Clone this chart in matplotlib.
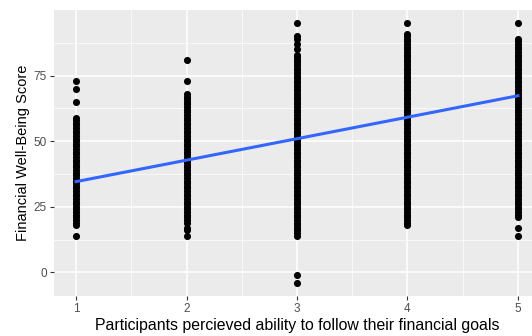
import numpy as np
import matplotlib
matplotlib.use("Agg")
import matplotlib.pyplot as plt

# perceived ability (x) and the distinct well-being scores seen in each column
ability_levels = [1, 2, 3, 4, 5]

scores_1 = [14, 18, 19, 20, 21, 22, 23, 24, 25, 26, 27, 28, 29, 30, 31, 32, 33, 34, 35,
            36, 37, 38, 39, 40, 41, 42, 43, 44, 45, 46, 47, 48, 49, 50, 51, 52, 53, 54,
            55, 56, 57, 58, 59, 65, 70, 73]
scores_2 = [14, 16, 17, 19, 20, 21, 22, 23, 24, 25, 26, 27, 28, 29, 30, 31, 32, 33, 34,
            35, 36, 37, 38, 39, 40, 41, 42, 43, 44, 45, 46, 47, 48, 49, 50, 51, 52, 53,
            54, 55, 56, 57, 58, 59, 60, 61, 62, 63, 64, 65, 66, 67, 68, 73, 81]
scores_3 = [-4, -1, 14, 15, 16, 17, 18, 19, 20, 21, 22, 23, 24, 25, 26, 27, 28, 29, 30,
            31, 32, 33, 34, 35, 36, 37, 38, 39, 40, 41, 42, 43, 44, 45, 46, 47, 48, 49,
            50, 51, 52, 53, 54, 55, 56, 57, 58, 59, 60, 61, 62, 63, 64, 65, 66, 67, 68,
            69, 70, 71, 72, 73, 74, 75, 76, 77, 78, 79, 80, 81, 82, 83, 85, 87, 89, 90, 95]
scores_4 = [18, 19, 20, 21, 22, 23, 24, 25, 26, 27, 28, 29, 30, 31, 32, 33, 34, 35, 36,
            37, 38, 39, 40, 41, 42, 43, 44, 45, 46, 47, 48, 49, 50, 51, 52, 53, 54, 55,
            56, 57, 58, 59, 60, 61, 62, 63, 64, 65, 66, 67, 68, 69, 70, 71, 72, 73, 74,
            75, 76, 77, 78, 79, 80, 81, 82, 83, 84, 85, 86, 87, 88, 89, 90, 91, 95]
scores_5 = [14, 17, 21, 22, 23, 24, 25, 26, 27, 28, 29, 30, 31, 32, 33, 34, 35, 36, 37,
            38, 39, 40, 41, 42, 43, 44, 45, 46, 47, 48, 49, 50, 51, 52, 53, 54, 55, 56,
            57, 58, 59, 60, 61, 62, 63, 64, 65, 66, 67, 68, 69, 70, 71, 72, 73, 74, 75,
            76, 77, 78, 79, 80, 81, 82, 83, 84, 85, 86, 87, 88, 89, 95]
all_scores = [scores_1, scores_2, scores_3, scores_4, scores_5]

# fitted line end points
fit_x = [1, 5]
fit_y = [34.6, 67.3]

y_ticks = [0, 25, 50, 75]

plt.rcParams['font.family'] = ['Liberation Sans', 'DejaVu Sans']

fig = plt.figure(figsize=(5.32, 3.36), dpi=100)
ax = fig.add_axes([54 / 532, 40 / 336, (540 - 54) / 532, 286 / 336])
ax.set_facecolor("#EBEBEB")

for lvl, sc in zip(ability_levels, all_scores):
    ax.scatter(np.full(len(sc), lvl), sc, s=26, color="black", linewidths=0, zorder=3)

ax.plot(fit_x, fit_y, color="#3366FF", lw=2.2, zorder=4)

ax.set_xlim(0.8, 5.2)
ax.set_ylim(-8.95, 99.95)
ax.set_xticks(ability_levels)
ax.set_yticks(y_ticks)
ax.set_xticks([1.5, 2.5, 3.5, 4.5], minor=True)
ax.set_yticks([12.5, 37.5, 62.5, 87.5], minor=True)
ax.grid(which="major", color="white", lw=1.1, zorder=0)
ax.grid(which="minor", color="white", lw=0.5, zorder=0)
ax.set_axisbelow(True)
for sp in ax.spines.values():
    sp.set_visible(False)
ax.tick_params(which="major", length=3, color="#333333", labelcolor="#4D4D4D",
               labelsize=8.5, pad=2)
ax.tick_params(which="minor", length=0)

ax.set_xlabel("Participants percieved ability to follow their financial goals",
              fontsize=11.4, labelpad=2)
ax.set_ylabel("Financial Well-Being Score", fontsize=10.5, labelpad=3)

fig.savefig("out.png", dpi=100)
